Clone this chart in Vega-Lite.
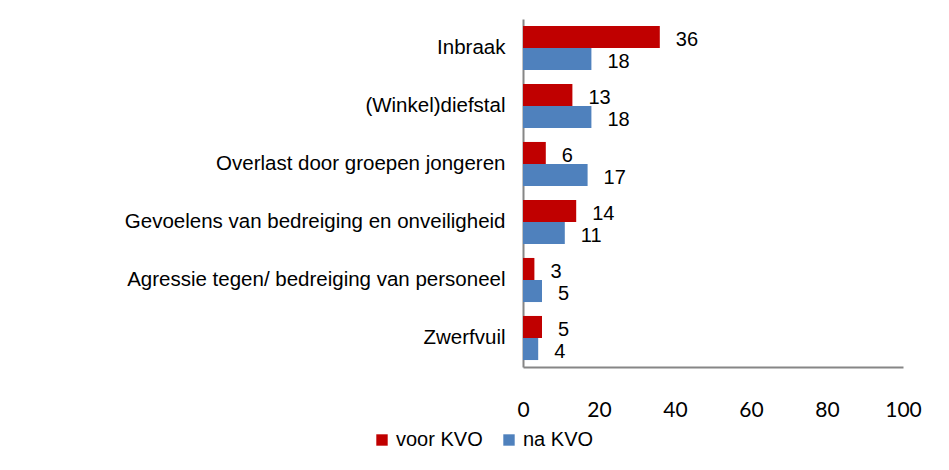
{
  "$schema": "https://vega.github.io/schema/vega-lite/v6.json",
  "autosize": {"type": "none"},
  "padding": {"left": 523, "top": 19, "right": 46, "bottom": 103},
  "width": 380,
  "height": 348,
  "background": "white",
  "config": {"view": {"stroke": null}},
  "data": {
    "values": [
      {"categorie": "Inbraak", "periode": "voor KVO", "waarde": 36},
      {"categorie": "Inbraak", "periode": "na KVO", "waarde": 18},
      {"categorie": "(Winkel)diefstal", "periode": "voor KVO", "waarde": 13},
      {"categorie": "(Winkel)diefstal", "periode": "na KVO", "waarde": 18},
      {"categorie": "Overlast door groepen jongeren", "periode": "voor KVO", "waarde": 6},
      {"categorie": "Overlast door groepen jongeren", "periode": "na KVO", "waarde": 17},
      {"categorie": "Gevoelens van bedreiging en onveiligheid", "periode": "voor KVO", "waarde": 14},
      {"categorie": "Gevoelens van bedreiging en onveiligheid", "periode": "na KVO", "waarde": 11},
      {"categorie": "Agressie tegen/ bedreiging van personeel", "periode": "voor KVO", "waarde": 3},
      {"categorie": "Agressie tegen/ bedreiging van personeel", "periode": "na KVO", "waarde": 5},
      {"categorie": "Zwerfvuil", "periode": "voor KVO", "waarde": 5},
      {"categorie": "Zwerfvuil", "periode": "na KVO", "waarde": 4}
    ]
  },
  "encoding": {
    "y": {
      "field": "categorie",
      "type": "nominal",
      "sort": null,
      "scale": {"paddingInner": 0.24, "paddingOuter": 0.12},
      "axis": {
        "title": null,
        "ticks": false,
        "domainColor": "#868686",
        "domainWidth": 2,
        "labelFont": "Liberation Sans",
        "labelFontSize": 20.5,
        "labelColor": "#000000",
        "labelPadding": 18,
        "labelLimit": 600
      }
    },
    "yOffset": {
      "field": "periode",
      "type": "nominal",
      "sort": ["voor KVO", "na KVO"],
      "scale": {"paddingInner": 0, "paddingOuter": 0}
    },
    "x": {
      "field": "waarde",
      "type": "quantitative",
      "scale": {"domain": [0, 100], "nice": false},
      "axis": {
        "title": null,
        "grid": false,
        "ticks": false,
        "values": [0, 20, 40, 60, 80, 100],
        "domainColor": "#868686",
        "domainWidth": 2,
        "labelFont": "Lato",
        "labelFontSize": 21,
        "labelColor": "#000000",
        "labelPadding": 32,
        "labelFlush": false
      }
    }
  },
  "layer": [
    {
      "mark": {"type": "bar"},
      "encoding": {
        "color": {
          "field": "periode",
          "type": "nominal",
          "sort": ["voor KVO", "na KVO"],
          "scale": {"domain": ["voor KVO", "na KVO"], "range": ["#C00000", "#4F81BD"]},
          "legend": {
            "title": null,
            "orient": "none",
            "direction": "horizontal",
            "legendX": -151,
            "legendY": 411,
            "symbolType": "square",
            "symbolSize": 130,
            "symbolStrokeWidth": 0,
            "labelFont": "Liberation Sans",
            "labelFontSize": 20,
            "labelColor": "#000000",
            "labelOffset": 4,
            "columnPadding": 16
          }
        }
      }
    },
    {
      "mark": {"type": "text", "align": "left", "baseline": "middle", "dx": 16, "dy": 3, "font": "Liberation Sans", "fontSize": 20, "color": "#000000"},
      "encoding": {
        "text": {"field": "waarde", "type": "quantitative"}
      }
    }
  ]
}
